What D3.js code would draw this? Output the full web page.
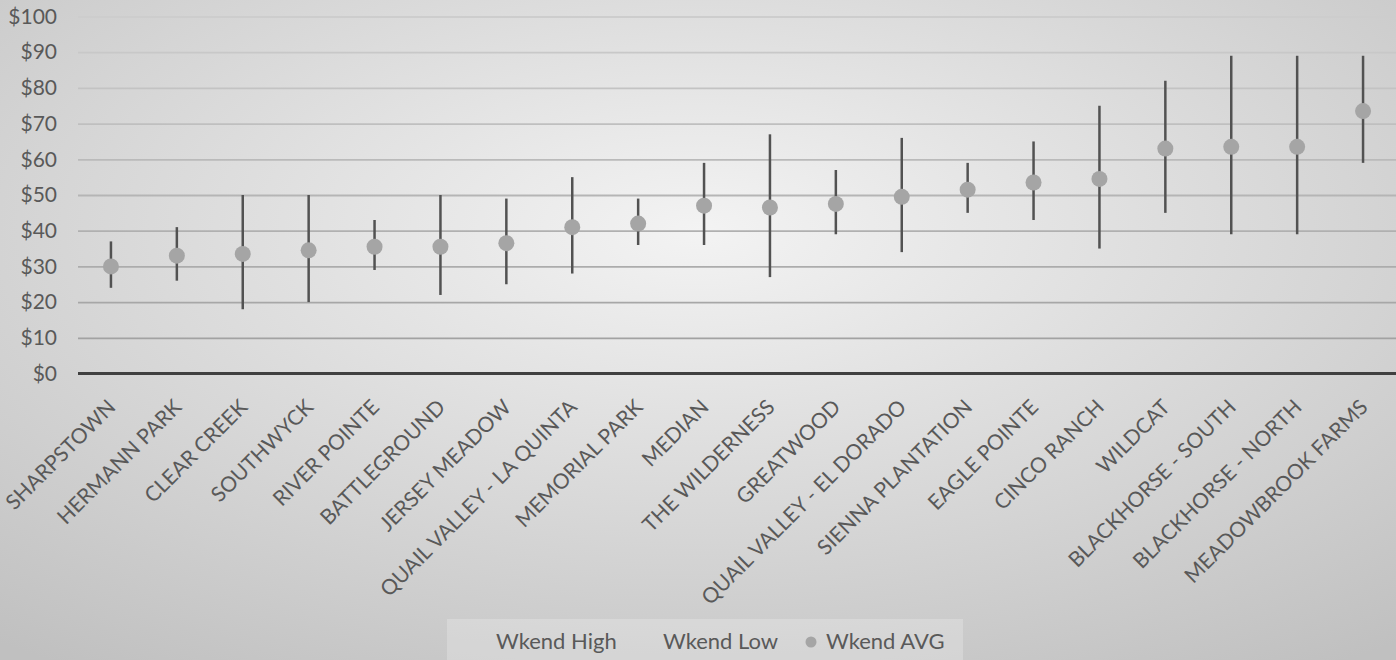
<!DOCTYPE html>
<html>
<head>
<meta charset="utf-8">
<script src="https://cdn.jsdelivr.net/npm/d3@7"></script>
<style>
  html, body { margin: 0; padding: 0; overflow: hidden; }
  text { font-family: Lato, "Open Sans", sans-serif; fill: #595959; }
</style>
</head>
<body>
<div id="chart"></div>
<script>
// neighbourhoods, sorted by weekend average
const categories = [
  "SHARPSTOWN", "HERMANN PARK", "CLEAR CREEK", "SOUTHWYCK", "RIVER POINTE",
  "BATTLEGROUND", "JERSEY MEADOW", "QUAIL VALLEY - LA QUINTA", "MEMORIAL PARK", "MEDIAN",
  "THE WILDERNESS", "GREATWOOD", "QUAIL VALLEY - EL DORADO", "SIENNA PLANTATION", "EAGLE POINTE",
  "CINCO RANCH", "WILDCAT", "BLACKHORSE - SOUTH", "BLACKHORSE - NORTH", "MEADOWBROOK FARMS"
];
const wkendHigh = [37, 41, 50, 50, 43, 50, 49, 55, 49, 59, 67, 57, 66, 59, 65, 75, 82, 89, 89, 89];
const wkendLow  = [24, 26, 18, 20, 29, 22, 25, 28, 36, 36, 27, 39, 34, 45, 43, 35, 45, 39, 39, 59];
const wkendAvg  = [30, 33, 33.5, 34.5, 35.5, 35.5, 36.5, 41, 42, 47, 46.5, 47.5, 49.5, 51.5, 53.5, 54.5, 63, 63.5, 63.5, 73.5];
const yTicks    = [0, 10, 20, 30, 40, 50, 60, 70, 80, 90, 100];
const legendItems = ["Wkend High", "Wkend Low", "Wkend AVG"];

const W = 1396, H = 660;
const margin = { top: 16.5, right: 0, bottom: 287.5, left: 78 };

const svg = d3.select("#chart").append("svg")
  .attr("width", W).attr("height", H);

// ── background ───────────────────────────────────
const defs = svg.append("defs");
const grad = defs.append("radialGradient")
  .attr("id", "bg").attr("cx", "50%").attr("cy", "35%").attr("r", "80%");
grad.append("stop").attr("offset", "0%").attr("stop-color", "#f3f3f3");
grad.append("stop").attr("offset", "100%").attr("stop-color", "#c0c0c0");
svg.append("rect").attr("width", W).attr("height", H).attr("fill", "url(#bg)");

// ── scales ───────────────────────────────────────
const x = d3.scaleBand()
  .domain(categories)
  .range([margin.left, W - margin.right]);

const y = d3.scaleLinear()
  .domain([0, 100])
  .range([H - margin.bottom + 1, margin.top]);

// gridlines - lighter towards the top, like the original
const gridCol = d3.scaleLinear().domain([10, 100]).range(["#a2a2a2", "#cdcdcd"]);
svg.append("g")
  .attr("transform", `translate(${margin.left},0)`)
  .call(d3.axisLeft(y).tickValues(yTicks.slice(1)).tickSize(-(W - margin.left)).tickFormat(""))
  .call(g => g.select(".domain").remove())
  .call(g => g.selectAll("line").attr("stroke", d => gridCol(d)).attr("stroke-width", 1.8));

// y labels
svg.append("g")
  .attr("transform", `translate(${margin.left},0)`)
  .call(d3.axisLeft(y).tickValues(yTicks).tickSize(0).tickPadding(21).tickFormat(d => "$" + d))
  .call(g => g.select(".domain").remove())
  .call(g => g.selectAll("text")
    .style("font-size", "21px")
    .style("font-family", "Lato, sans-serif")
    .attr("fill", "#595959"));

// baseline
svg.append("line")
  .attr("x1", margin.left).attr("x2", W)
  .attr("y1", y(0)).attr("y2", y(0))
  .attr("stroke", "#404040").attr("stroke-width", 3);

// category labels
svg.append("g").selectAll("text")
  .data(categories)
  .join("text")
    .attr("transform", d => `translate(${x(d) + x.bandwidth() / 2 + 6},${y(0) + 35}) rotate(-45)`)
    .attr("text-anchor", "end")
    .style("font-size", "21px")
    .text(d => d);

// high-low lines
const cx = d => x(d) + x.bandwidth() / 2;
svg.append("g").selectAll("line")
  .data(categories)
  .join("line")
    .attr("x1", cx).attr("x2", cx)
    .attr("y1", (d, i) => y(wkendHigh[i]))
    .attr("y2", (d, i) => y(wkendLow[i]))
    .attr("stroke", "#525252").attr("stroke-width", 2.5);

// average dots
svg.append("g").selectAll("circle")
  .data(categories)
  .join("circle")
    .attr("cx", cx)
    .attr("cy", (d, i) => y(wkendAvg[i]))
    .attr("r", 8)
    .attr("fill", "#a5a5a5");

// ── legend ───────────────────────────────────────
const legend = svg.append("g");
legend.append("rect")
  .attr("x", 447).attr("y", 619).attr("width", 516).attr("height", 45)
  .attr("fill", "#ffffff").attr("fill-opacity", 0.22);

const legendX = [496, 663, 826];
legendItems.forEach((lbl, i) => {
  legend.append("text")
    .attr("x", legendX[i]).attr("y", 649)
    .style("font-size", "22px")
    .text(lbl);
});
legend.append("circle")
  .attr("cx", 811).attr("cy", 642).attr("r", 5.5)
  .attr("fill", "#a5a5a5");
</script>
</body>
</html>
